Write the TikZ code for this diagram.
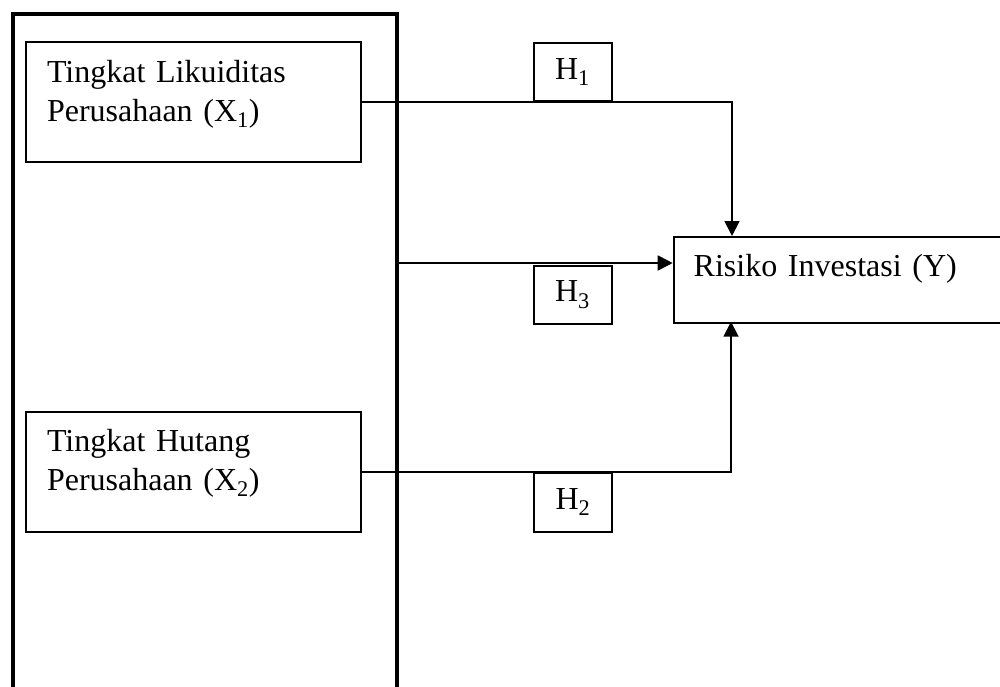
\documentclass[tikz,border=0pt]{standalone}
\usepackage{fontspec}
\setmainfont{Liberation Serif}
\usetikzlibrary{arrows.meta}
\begin{document}
\begin{tikzpicture}[x=1pt,y=-1pt,
  txt/.style={font=\fontsize{32}{39}\selectfont},
  varbox/.style={txt, draw, line width=2pt, anchor=north west, inner xsep=21pt, inner ysep=0pt,
    text width=293pt, align=left, text height=39.7pt, text depth=80pt},
  hbox/.style={txt, draw, line width=2pt, anchor=north west, inner sep=0pt,
    minimum width=78pt, minimum height=58.5pt},
  ybox/.style={txt, draw, line width=2pt, anchor=north west, inner xsep=20pt, inner ysep=0pt,
    text width=300pt, align=left, text height=39pt, text depth=46.7pt},
  frame/.style={draw, line width=3.5pt, anchor=north west, inner sep=0pt,
    minimum width=384pt, minimum height=720pt},
  conn/.style={line width=1.8pt},
  arr/.style={conn, -{Triangle[length=15pt,width=15pt]}}]
\useasboundingbox (0,0) rectangle (1000,686);
\clip (0,0) rectangle (1000,686);
\node[frame] (frame) at (11,12) {};
\node[varbox] (x1) at (25,41.3) {Tingkat Likuiditas\\Perusahaan (X\textsubscript{1})};
\node[varbox] (x2) at (25,411) {Tingkat Hutang\\Perusahaan (X\textsubscript{2})};
\node[ybox] (y) at (672.7,236) {Risiko Investasi (Y)};
\node[hbox] (h1) at (532.5,41.5) {H\textsubscript{1}};
\node[hbox] (h3) at (532.5,264.5) {H\textsubscript{3}};
\node[hbox] (h2) at (533,472) {H\textsubscript{2}};
\coordinate (ytop) at (732,236);
\coordinate (ybot) at (731,321.7);
\coordinate (yleft) at (672.7,263);
\draw[arr] (x1.east) -| (ytop);
\draw[arr] (x2.east) -| (ybot);
\draw[arr] (frame.east |- yleft) -- (yleft);
\end{tikzpicture}
\end{document}
